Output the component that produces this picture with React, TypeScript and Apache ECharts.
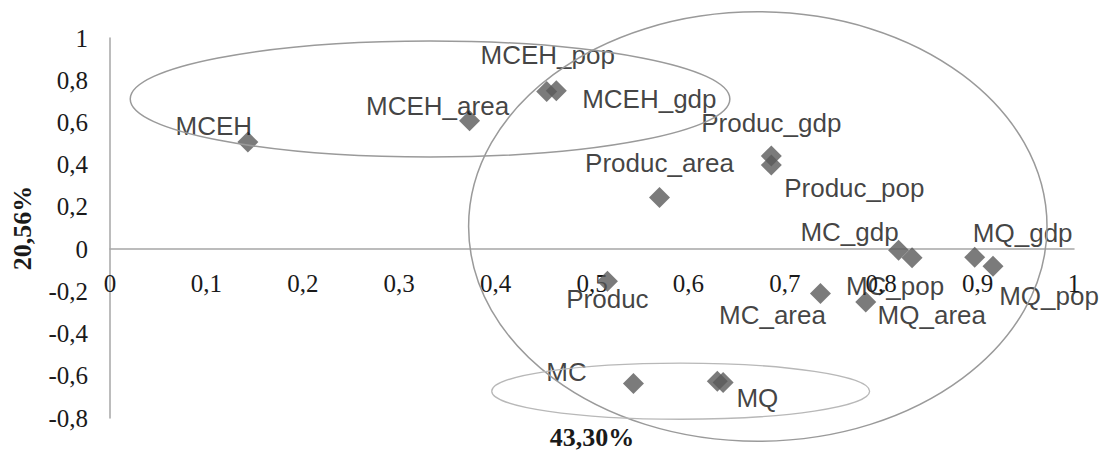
import React, { useEffect, useRef } from "react";
import * as echarts from "echarts";

const pointNames = [
  "MCEH", "MCEH_area", "MCEH_pop", "MCEH_gdp", "Produc_area", "Produc_gdp", "Produc_pop", "Produc",
  "MC_gdp", "MC_pop", "MQ_gdp", "MQ_pop", "MC_area", "MQ_area", "MC", "MQ", "",
];
const xValues = [0.143, 0.373, 0.453, 0.463, 0.570, 0.686, 0.686, 0.516, 0.818, 0.832, 0.897, 0.916, 0.737, 0.784, 0.543, 0.630, 0.636];
const yValues = [0.507, 0.608, 0.746, 0.750, 0.245, 0.441, 0.398, -0.152, -0.005, -0.041, -0.039, -0.081, -0.210, -0.250, -0.637, -0.626, -0.632];

const xAxisTitle = "43,30%";
const yAxisTitle = "20,56%";

// label placement (pixels relative to marker centre)
const labelOffsets: [number, number][] = [
  [-34, -16], [-32, -15], [1, -37], [93, 8], [0, -34], [0, -33], [83, 23], [0, 18],
  [-49, -18], [-17, 28], [48, -24], [56, 30], [-48, 22], [66, 13], [-67, -12], [40, 17], [0, 0],
];

// grouping ellipses in data units: [cx, cy, rx, ry]
const ellipses: [number, number, number, number][] = [
  [0.332, 0.711, 0.311, 0.275],
  [0.672, 0.107, 0.300, 1.017],
  [0.592, -0.673, 0.196, 0.133],
];
const ellipseStyles = [
  { stroke: "#9a9a9a", lineWidth: 1.5 },
  { stroke: "#9a9a9a", lineWidth: 1.5 },
  { stroke: "#b8b8b8", lineWidth: 1.3 },
];

const fmt = (v: number) => {
  if (Math.abs(v) < 1e-9) return "0";
  if (Math.abs(v - Math.round(v)) < 1e-9) return String(Math.round(v));
  return v.toFixed(1).replace(".", ",");
};

export default function App() {
  const ref = useRef<HTMLDivElement>(null);
  useEffect(() => {
    document.body.style.margin = "0";
    if (!ref.current) return;
    const chart = echarts.init(ref.current, undefined, { renderer: "svg" });
    const tickFont = { fontFamily: "Liberation Serif", fontSize: 25, color: "#1a1a1a" };
    const gridTop = 38;
    const gridBottom = 32;
    const chartH = 450;
    chart.setOption({
      animation: false,
      backgroundColor: "#ffffff",
      grid: { left: 110, right: 34, top: gridTop, bottom: gridBottom, containLabel: false, outerBoundsMode: "none" },
      xAxis: {
        type: "value",
        min: 0,
        max: 1,
        interval: 0.1,
        axisLine: { onZero: true, lineStyle: { color: "#a6a6a6", width: 1.5 } },
        axisTick: { show: false },
        splitLine: { show: false },
        axisLabel: { ...tickFont, margin: 22, formatter: fmt, showMinLabel: true, showMaxLabel: true },
      },
      yAxis: {
        type: "value",
        min: -0.8,
        max: 1,
        interval: 0.2,
        axisLine: { show: true, onZero: false, lineStyle: { color: "#a6a6a6", width: 1.5 } },
        axisTick: { show: false },
        splitLine: { show: false },
        axisLabel: { ...tickFont, margin: 22, formatter: fmt, showMinLabel: true, showMaxLabel: true },
      },
      series: [
        {
          type: "scatter",
          symbol: "diamond",
          symbolSize: 21,
          itemStyle: { color: "#5a5a5a" },
          data: xValues.map((x, i) => ({
            value: [x, yValues[i]],
            name: pointNames[i],
            label: {
              show: pointNames[i] !== "",
              position: "inside",
              offset: labelOffsets[i],
              formatter: pointNames[i],
              fontFamily: "Liberation Sans",
              fontSize: 26,
              color: "#111111",
              textBorderWidth: 0,
            },
          })),
          z: 3,
        },
      ],
    });
    // keep x tick labels just under the zero line
    const zeroPx = (chart.convertToPixel({ gridIndex: 0 }, [0, 0]) as number[])[1];
    const bottomPx = chartH - gridBottom;
    chart.setOption({ xAxis: { axisLabel: { margin: 22 - (bottomPx - zeroPx) } } });

    const graphics: any[] = ellipses.map(([cx, cy, rx, ry], i) => {
      const c = chart.convertToPixel({ gridIndex: 0 }, [cx, cy]) as number[];
      const r = chart.convertToPixel({ gridIndex: 0 }, [cx + rx, cy + ry]) as number[];
      return {
        type: "ellipse",
        shape: { cx: c[0], cy: c[1], rx: Math.abs(r[0] - c[0]), ry: Math.abs(r[1] - c[1]) },
        style: { fill: "transparent", ...ellipseStyles[i] },
        silent: true,
        z: 10,
      };
    });
    const titleStyle = {
      fontFamily: "Liberation Serif",
      fontSize: 26,
      fontWeight: "bold",
      fill: "#1a1a1a",
      align: "center",
      verticalAlign: "middle",
    };
    graphics.push({
      type: "text",
      x: 22,
      y: (gridTop + bottomPx) / 2,
      rotation: Math.PI / 2,
      style: { ...titleStyle, text: yAxisTitle },
    });
    graphics.push({
      type: "text",
      x: (110 + 1074) / 2,
      y: 437,
      style: { ...titleStyle, text: xAxisTitle },
    });
    chart.setOption({ graphic: graphics });
    return () => chart.dispose();
  }, []);
  return <div ref={ref} style={{ width: 1108, height: 450 }} />;
}
